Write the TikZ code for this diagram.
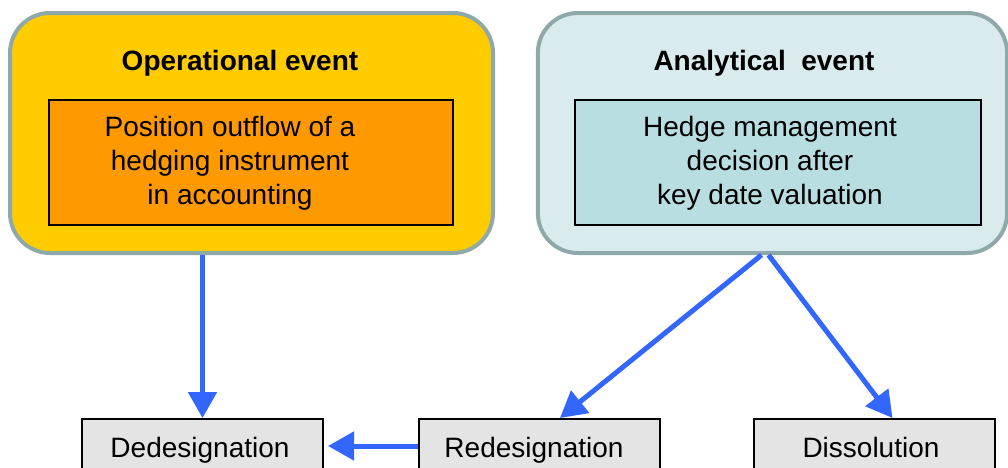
\documentclass[tikz,border=0pt]{standalone}
\usepackage{fontspec}
\setmainfont{Liberation Sans}
\usetikzlibrary{arrows.meta,calc}
\definecolor{opyellow}{HTML}{FFCC00}
\definecolor{oporange}{HTML}{FF9900}
\definecolor{anlight}{HTML}{DAEBEE}
\definecolor{aninner}{HTML}{B8DEE1}
\definecolor{bordergray}{HTML}{8FA9AB}
\definecolor{arrowblue}{HTML}{3366FF}
\definecolor{leafgray}{HTML}{E4E4E4}
\begin{document}
\begin{tikzpicture}[x=0.75pt,y=-0.75pt,
  outerbox/.style={draw=bordergray, line width=3pt, rounded corners=30pt, inner sep=0pt,
    minimum height=180pt},
  innerbox/.style={draw=black, line width=1.5pt, inner sep=0pt, minimum height=93.75pt},
  leafbox/.style={draw=black, line width=1.5pt, fill=leafgray, inner sep=0pt,
    minimum width=180.75pt, minimum height=60pt},
  titletext/.style={inner sep=0pt, anchor=base, font=\fontsize{21}{25}\selectfont\bfseries},
  bodytext/.style={inner sep=0pt, align=center, font=\fontsize{21}{25.5}\selectfont},
  leaftext/.style={inner sep=0pt, anchor=base, font=\fontsize{21}{25}\selectfont},
  arr/.style={draw=arrowblue, line width=3.75pt, -{Triangle[length=19.5pt,width=21pt]}, arrowblue}
]
\useasboundingbox (0,0) rectangle (1008,468);
\clip (0,0) rectangle (1008,468);

% operational event
\node[outerbox, fill=opyellow, minimum width=362.25pt] (ope) at (251.5,133) {};
\node[titletext] (opetitle) at (240,70) {Operational event};
\node[innerbox, fill=oporange, minimum width=303pt] (opein) at (251,162.5) {};
\node[bodytext] (opetext) at (230,163) {Position outflow of a\\hedging instrument\\in accounting};

% analytical event
\node[outerbox, fill=anlight, minimum width=352pt] (ana) at (772.5,133) {};
\node[titletext] (anatitle) at (764,70) {Analytical\ \ event};
\node[innerbox, fill=aninner, minimum width=304.5pt] (anain) at (778,162.5) {};
\node[bodytext] (anatext) at (770,163) {Hedge management\\decision after\\key date valuation};

% leaves
\node[leafbox] (ded) at (202.5,459) {};
\node[leaftext] (dedtxt) at (200,457) {Dedesignation};
\node[leafbox] (red) at (539,459) {};
\node[leaftext] (redtxt) at (534,457) {Redesignation};
\node[leafbox] (dis) at (874.5,459) {};
\node[leaftext] (distxt) at (871,457) {Dissolution};

% connectors
\draw[arr] (ded.north |- ope.south) -- (ded.north);
\draw[arr] ($(red.west)+(0,-13)$) -- ($(ded.east)+(4,-13)$);
\draw[arr] ($(ana.south)+(-11,0)$) -- ($(red.north)+(21,0)$);
\draw[arr] ($(ana.south)+(-4,0)$) -- ($(dis.north)+(18,0)$);
\end{tikzpicture}
\end{document}
